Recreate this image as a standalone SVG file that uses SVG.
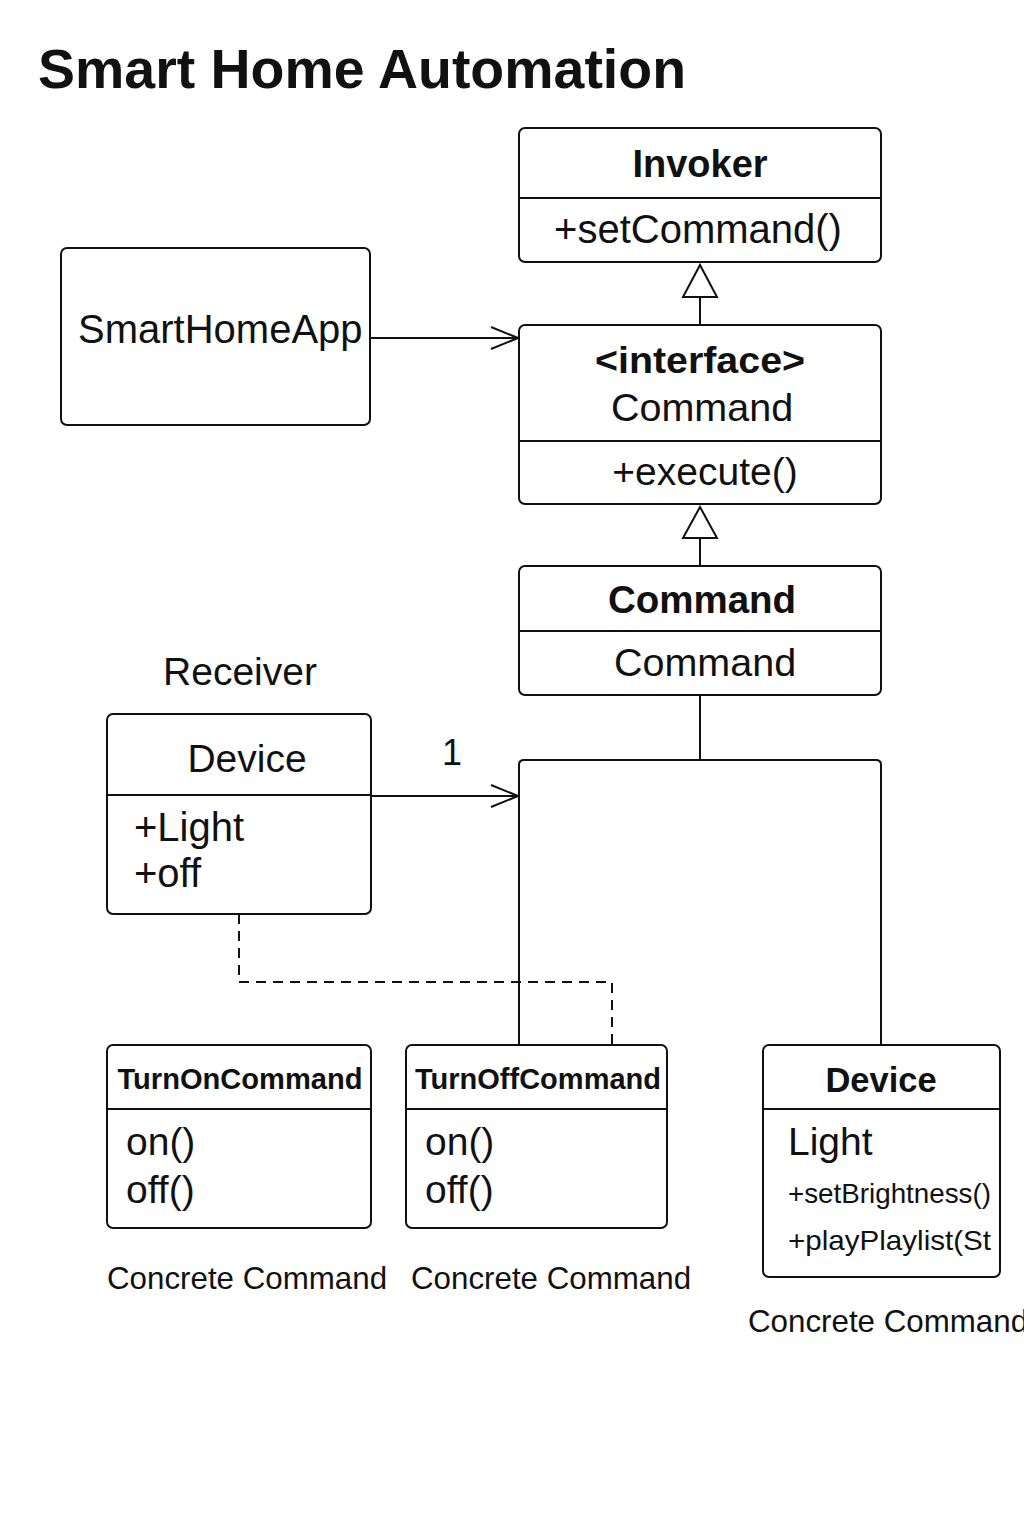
<svg xmlns="http://www.w3.org/2000/svg" width="1024" height="1536" viewBox="0 0 1024 1536">
<defs>
<style>
text{font-family:"Liberation Sans",Arial,sans-serif;fill:#111}
.box{fill:#fff;stroke:#111;stroke-width:2}
.div{stroke:#111;stroke-width:2}
.ln{fill:none;stroke:#111;stroke-width:2}
.dash{fill:none;stroke:#111;stroke-width:2;stroke-dasharray:10 7}
.b{font-weight:bold}
.c{text-anchor:middle}
</style>
<marker id="open" viewBox="0 0 30 26" refX="29" refY="13" markerWidth="30" markerHeight="26" markerUnits="userSpaceOnUse" orient="auto">
<path d="M2,2 L29,13 L2,24" fill="none" stroke="#111" stroke-width="2"/>
</marker>
</defs>
<rect width="1024" height="1536" fill="#fff"/>
<text x="38" y="88" class="b" font-size="55" textLength="648" lengthAdjust="spacingAndGlyphs">Smart Home Automation</text>

<g id="connectors">
<line x1="370" y1="338" x2="518" y2="338" class="ln" marker-end="url(#open)"/>
<path d="M700,325 V297" class="ln"/>
<path d="M683,297 L700,265 L717,297 Z" fill="#fff" stroke="#111" stroke-width="2"/>
<path d="M700,566 V538" class="ln"/>
<path d="M683,538 L700,507 L717,538 Z" fill="#fff" stroke="#111" stroke-width="2"/>
<path d="M700,695 V760" class="ln"/>
<path d="M519,1045 V765 Q519,760 524,760 H876 Q881,760 881,765 V1045" class="ln"/>
<line x1="371" y1="796" x2="518" y2="796" class="ln" marker-end="url(#open)"/>
<text x="452" y="765" font-size="36" class="c">1</text>
<path d="M239,914 V982 H612 V1045" class="dash"/>
</g>

<g id="invoker">
<rect x="519" y="128" width="362" height="134" rx="6" class="box"/>
<line x1="519" y1="198" x2="881" y2="198" class="div"/>
<text x="700" y="177" class="b c" font-size="38">Invoker</text>
<text x="698" y="243" class="c" font-size="40">+setCommand()</text>
</g>

<g id="smarthomeapp">
<rect x="61" y="248" width="309" height="177" rx="6" class="box"/>
<text x="78" y="343" font-size="40">SmartHomeApp</text>
</g>

<g id="command-interface">
<rect x="519" y="325" width="362" height="179" rx="6" class="box"/>
<line x1="519" y1="441" x2="881" y2="441" class="div"/>
<text x="700" y="373" class="b c" font-size="37" textLength="210" lengthAdjust="spacingAndGlyphs">&lt;interface&gt;</text>
<text x="702" y="421" class="c" font-size="39.5">Command</text>
<text x="705" y="485" class="c" font-size="39">+execute()</text>
</g>

<g id="command">
<rect x="519" y="566" width="362" height="129" rx="6" class="box"/>
<line x1="519" y1="631" x2="881" y2="631" class="div"/>
<text x="702" y="613" class="b c" font-size="38.5">Command</text>
<text x="705" y="676" class="c" font-size="39.5">Command</text>
</g>

<g id="receiver-label">
<text x="240" y="685" class="c" font-size="39">Receiver</text>
</g>

<g id="device-receiver">
<rect x="107" y="714" width="264" height="200" rx="6" class="box"/>
<line x1="107" y1="795" x2="371" y2="795" class="div"/>
<text x="247" y="772" class="c" font-size="39">Device</text>
<text x="134" y="841" font-size="40">+Light</text>
<text x="134" y="887" font-size="40">+off</text>
</g>

<g id="turnon">
<rect x="107" y="1045" width="264" height="183" rx="6" class="box"/>
<line x1="107" y1="1109" x2="371" y2="1109" class="div"/>
<text x="240" y="1089" class="b c" font-size="29" textLength="245" lengthAdjust="spacingAndGlyphs">TurnOnCommand</text>
<text x="126" y="1155" font-size="39">on()</text>
<text x="126" y="1203" font-size="39">off()</text>
</g>

<g id="turnoff">
<rect x="406" y="1045" width="261" height="183" rx="6" class="box"/>
<line x1="406" y1="1109" x2="667" y2="1109" class="div"/>
<text x="538" y="1089" class="b c" font-size="29" textLength="246" lengthAdjust="spacingAndGlyphs">TurnOffCommand</text>
<text x="425" y="1155" font-size="39">on()</text>
<text x="425" y="1203" font-size="39">off()</text>
</g>

<g id="device-light">
<rect x="763" y="1045" width="237" height="232" rx="6" class="box"/>
<line x1="763" y1="1109" x2="1000" y2="1109" class="div"/>
<text x="881" y="1092" class="b c" font-size="34.5">Device</text>
<text x="788" y="1155" font-size="39">Light</text>
<text x="788" y="1203" font-size="28" textLength="203" lengthAdjust="spacingAndGlyphs">+setBrightness()</text>
<text x="788" y="1250" font-size="28" textLength="203" lengthAdjust="spacingAndGlyphs">+playPlaylist(St</text>
</g>

<g id="labels">
<text x="107" y="1289" font-size="31.3">Concrete Command</text>
<text x="411" y="1289" font-size="31.3">Concrete Command</text>
<text x="748" y="1332" font-size="31.3">Concrete Command</text>
</g>
</svg>
